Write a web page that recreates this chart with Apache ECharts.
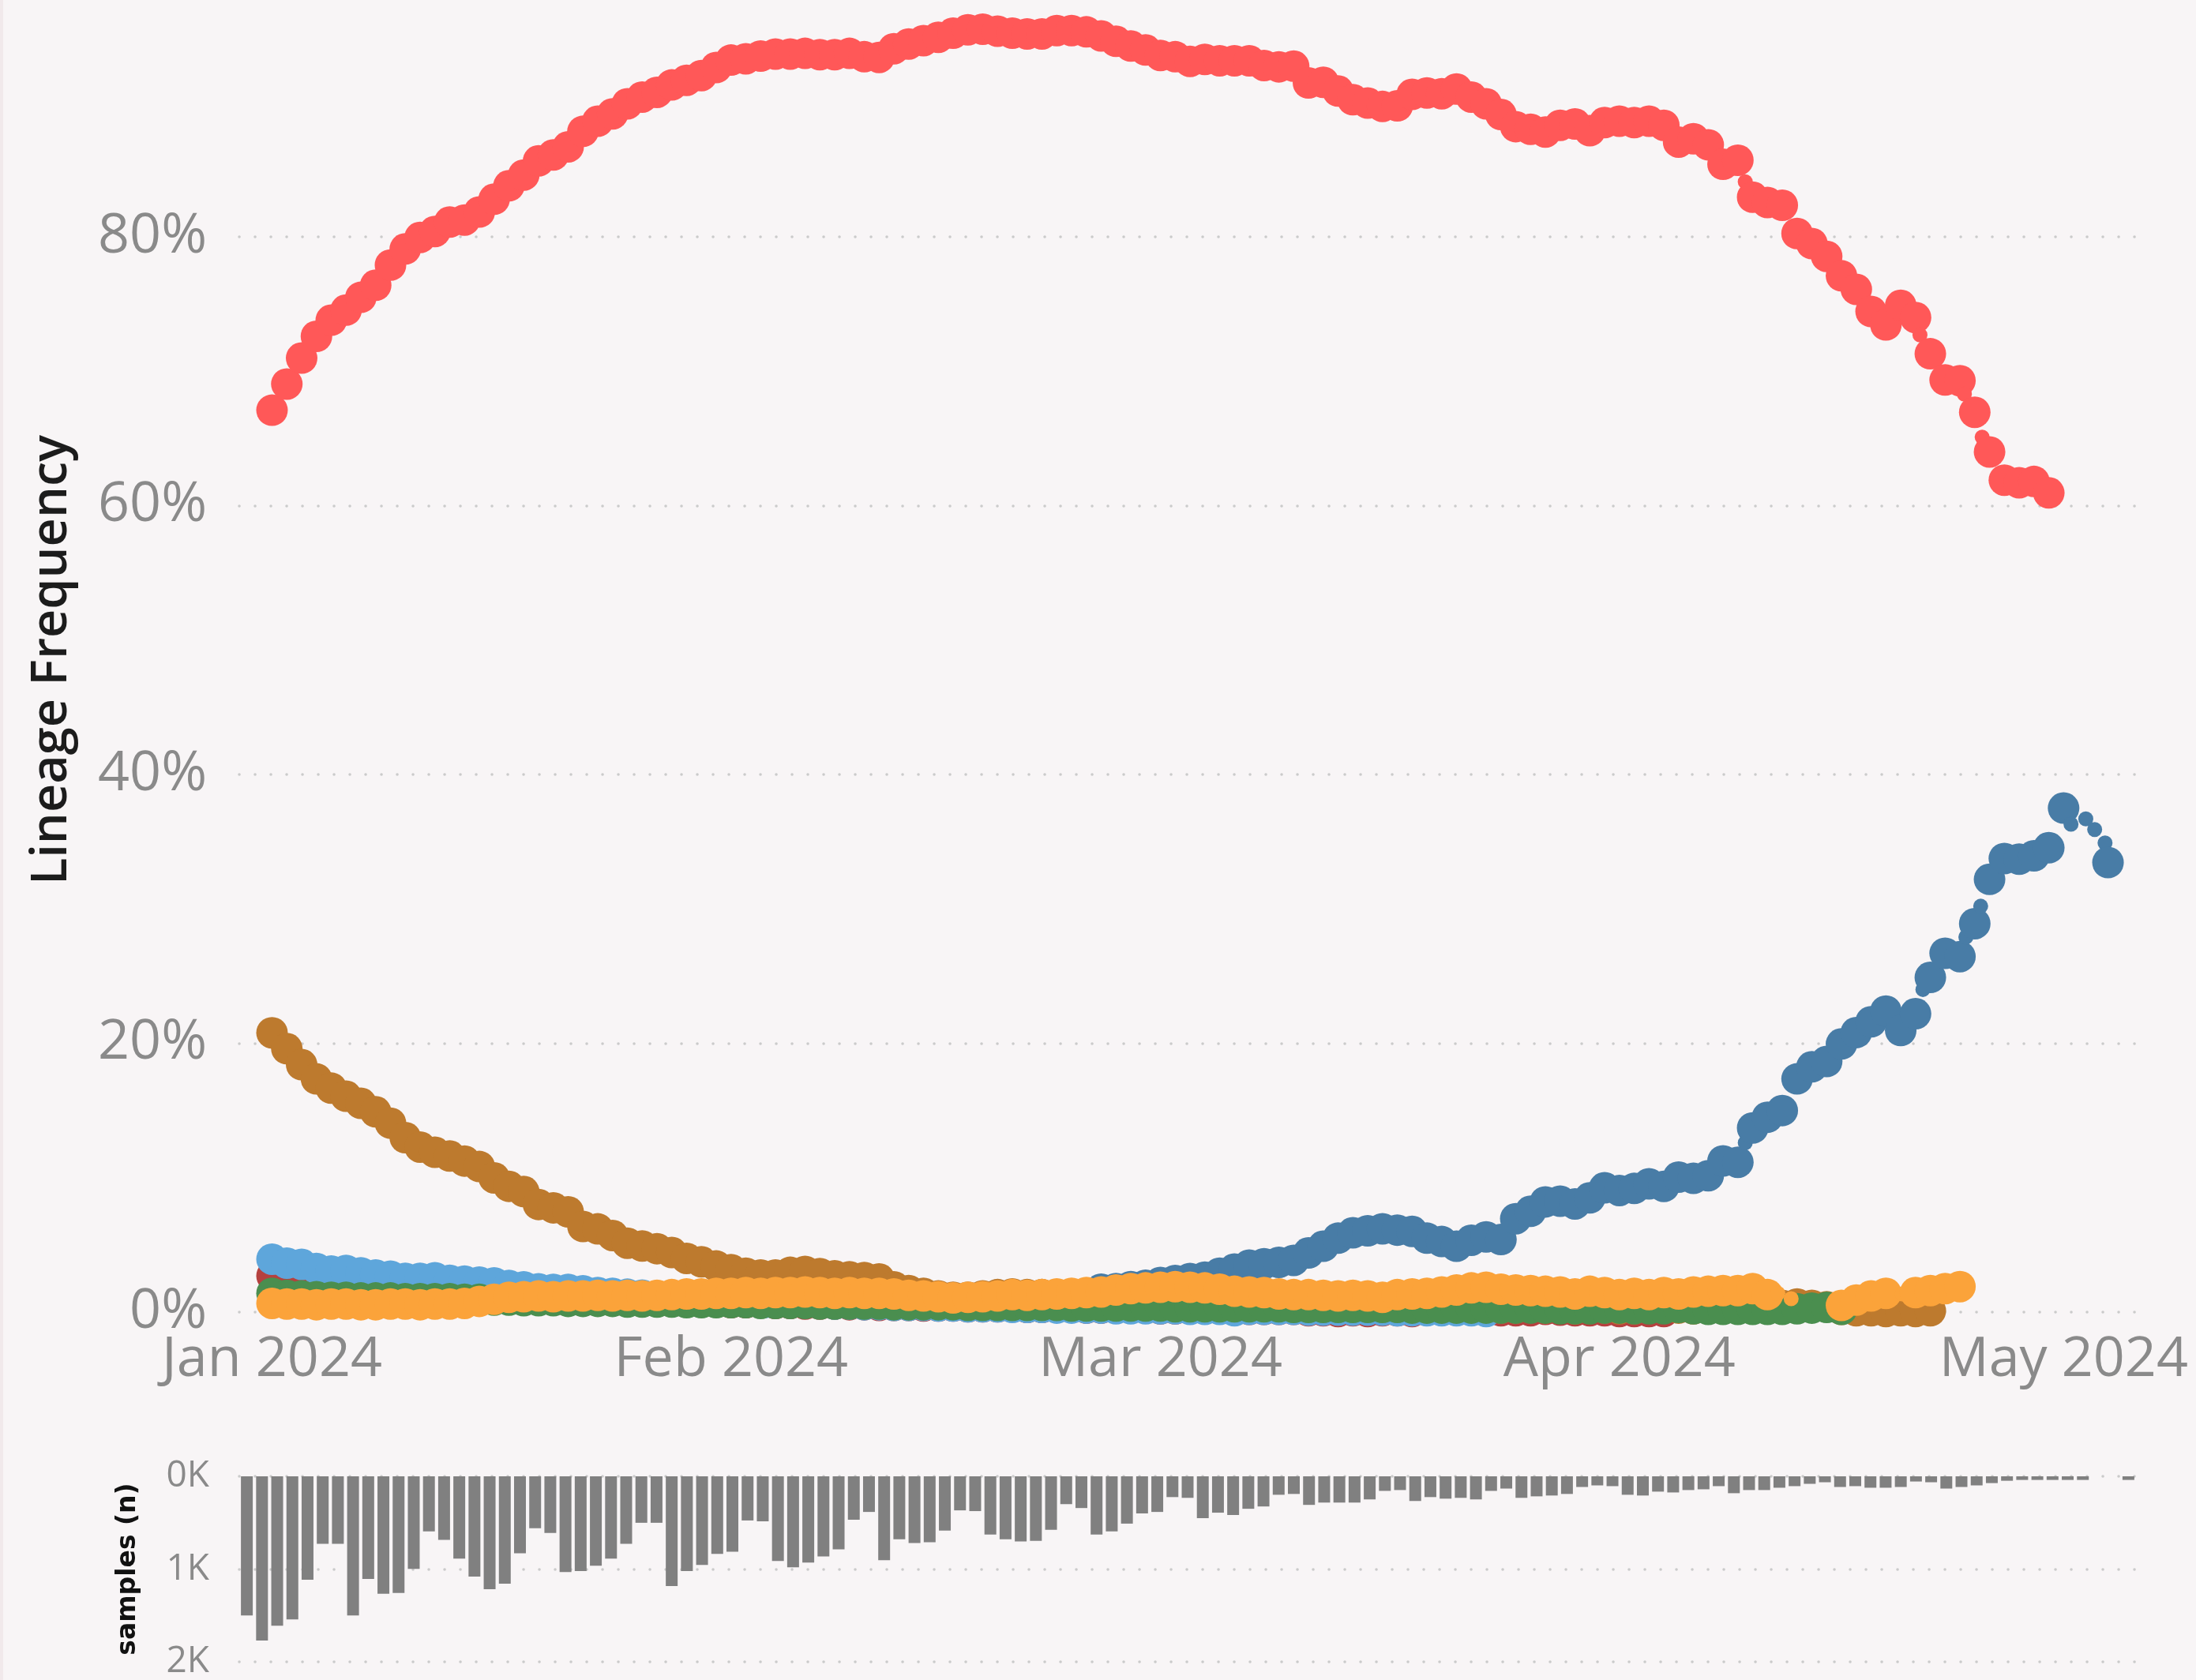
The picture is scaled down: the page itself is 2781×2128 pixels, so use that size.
<!DOCTYPE html>
<html><head><meta charset="utf-8">
<script src="https://cdn.jsdelivr.net/npm/echarts@6/dist/echarts.min.js"></script>
<style>
html,body{margin:0;padding:0;background:#f8f5f6;}
#c{width:2781px;height:2128px;position:absolute;left:0;top:0;}
#edge{position:absolute;left:0;top:0;width:4px;height:2128px;background:#f1e9eb;z-index:5;}
</style></head><body><div id="c"></div><div id="edge"></div>
<script>
// ---------- data ----------
const START_DATE = '2024-01-01';
const monthTickDays = [0, 31, 60, 91, 121];
const monthLabels = ['Jan 2024', 'Feb 2024', 'Mar 2024', 'Apr 2024', 'May 2024'];
const freqTicks = [0, 20, 40, 60, 80];
const sampleTicks = [0, 1000, 2000];

// lineage frequency (%) by day since Jan 1 2024
const redFreq = [67.1,69.05,70.98,72.6,73.8,74.55,75.5,76.4,77.9,79.1,79.95,80.4,81.1,81.25,81.85,82.8,83.8,84.6,85.65,86.1,
86.7,87.85,88.6,89.15,89.9,90.4,90.75,91.3,91.65,92.0,92.6,93.15,93.25,93.45,93.6,93.6,93.65,93.55,93.55,93.65,
93.4,93.35,94.0,94.35,94.6,94.85,95.15,95.4,95.45,95.3,95.15,95.1,95.1,95.35,95.35,95.25,94.95,94.55,94.2,93.9,
93.5,93.4,93.05,93.2,93.1,93.1,93.1,92.75,92.65,92.7,91.45,91.5,90.85,90.2,89.95,89.7,89.75,90.6,90.7,90.65,
91.0,90.4,89.9,89.1,88.2,88.0,87.8,88.3,88.4,87.9,88.5,88.6,88.5,88.6,88.3,87.05,87.3,86.85,85.4,85.7,
82.95,82.55,82.35,80.25,79.5,78.55,77.1,76.1,74.45,73.45,74.9,74.0,71.3,69.35,69.3,66.95,64.0,61.9,61.7,61.8,60.95];
const redLowCount = [[99.5,84.1],[111.3,72.7],[114.3,68.3],[115.5,65.1]];

const steelStart = 56;
const steelFreq = [1.7,1.75,1.9,2.0,2.2,2.35,2.5,2.6,2.9,3.2,3.5,3.6,3.7,3.85,4.4,4.9,5.5,5.9,6.05,6.2,
6.1,6.0,5.5,5.25,4.9,5.35,5.6,5.4,6.95,7.5,8.2,8.25,8.05,8.5,9.25,9.05,9.2,9.55,9.35,10.05,
9.95,10.15,11.25,11.15,13.7,14.5,15.0,17.35,18.25,18.65,19.95,20.8,21.6,22.4,20.95,22.2,24.9,26.7,26.45,28.9,
32.2,33.75,33.7,33.95,34.55,37.5,null,null,33.45];
const steelLowCount = [[99.5,12.6],[111.5,24.0],[114.4,27.9],[115.4,30.2],[121.5,36.3],[122.5,36.7],[123.1,35.9],[123.8,34.9]];

const brownFreq = [20.78,19.6,18.41,17.35,16.66,16.06,15.53,14.9,14.06,12.98,12.28,11.89,11.61,11.24,10.83,9.99,9.36,8.97,8.01,7.76,
7.46,6.37,6.19,5.7,5.13,4.92,4.72,4.43,4.0,3.74,3.43,3.16,2.9,2.76,2.76,2.96,3.02,2.86,2.7,2.63,
2.57,2.47,1.88,1.6,1.4,1.2,1.1,1.1,1.2,1.3,1.35,1.3,1.3,1.2,1.1,1.0,0.95,0.9,0.85,0.8,
0.8,0.75,0.7,0.7,0.65,0.6,0.6,0.55,0.55,0.5,0.5,0.5,0.45,0.45,0.4,0.4,0.4,0.35,0.4,0.45,
0.4,0.35,0.35,0.3,0.3,0.35,0.3,0.3,0.25,0.3,0.3,0.25,0.25,0.3,0.3,0.3,0.25,0.3,0.3,0.3,
0.35,0.4,0.5,0.6,0.5,0.4,0.2,0.1,0.1,0.05,0.1,0.05,0.1];

const lightBlueFreq = [3.94,3.64,3.55,3.25,3.06,3.1,2.92,2.76,2.67,2.51,2.51,2.55,2.37,2.31,2.23,2.18,1.98,1.88,1.73,1.69,
1.69,1.59,1.45,1.39,1.33,1.26,1.2,1.1,1.0,0.95,0.9,0.85,0.8,null,0.75,0.7,0.7,0.65,0.6,0.6,
0.55,0.55,0.5,0.5,0.5,0.45,0.45,0.4,0.4,0.4,0.35,0.35,0.35,0.3,0.3,0.3,0.3,0.25,0.25,0.25,
0.25,0.25,0.2,0.2,0.2,0.1,0.2,0.2,0.2,0.2,0.15,0.15,0.15,0.15,0.15,0.15,0.1,0.1,0.1,0.1,
0.1,0.1,0.05];
const lightBlueLowCount = [[33.4,0.1]];

const greenFreq = [1.4,1.25,1.2,1.15,1.1,1.1,1.05,1.05,1.05,1.0,1.0,1.0,1.0,0.95,0.95,0.9,0.9,0.85,0.85,0.85,
0.8,0.8,0.8,0.8,0.75,0.75,0.75,0.75,0.7,0.7,0.7,0.7,0.7,0.65,0.65,0.65,0.65,0.6,0.6,0.6,
0.6,0.6,0.55,0.55,0.55,0.55,0.55,0.5,0.5,0.5,0.5,0.5,0.5,0.5,0.45,0.45,0.45,0.45,0.45,0.45,
0.45,0.4,0.4,0.4,0.4,0.4,0.4,0.4,0.4,0.35,0.35,0.35,0.35,0.35,0.35,0.35,0.35,0.3,0.3,0.3,
0.3,0.3,0.3,0.3,0.3,0.3,0.3,0.25,0.25,0.25,0.3,0.3,0.25,0.25,0.25,0.35,0.25,0.2,0.2,0.2,
0.2,0.2,0.2,0.25,0.3,0.35,0.2];

const darkRedFreq = [2.7,2.5,2.3,2.15,2.0,1.9,1.8,1.7,1.6,1.55,1.5,1.45,1.4,1.35,1.3,1.25,1.2,1.15,1.1,1.05,
1.0,0.95,0.95,0.9,0.9,0.85,0.85,0.8,0.8,0.75,0.75,0.7,0.7,0.7,0.65,0.65,0.6,0.6,0.6,0.55,
0.55,0.5,0.5,0.5,0.45,0.45,0.45,0.4,0.4,0.4,0.4,0.35,0.35,0.35,0.35,0.3,0.3,0.3,0.3,0.3,
0.25,0.25,0.25,0.25,0.25,0.2,0.2,0.2,0.2,0.2,0.1,0.1,0.05,0.1,0.05,0.1,0.1,0.05,0.15,0.15,
0.2,0.15,0.15,0.1,0.1,0.1,0.2,0.15,0.1,0.1,0.1,0.05,0.05,0.05,0.05];

const orangeFreq = [0.65,0.6,0.6,0.55,0.6,0.6,0.55,0.55,0.6,0.6,0.55,0.6,0.6,0.65,0.8,0.95,1.1,1.15,1.2,1.15,
1.2,1.2,1.25,1.2,1.25,1.2,1.25,1.3,1.35,1.35,1.4,1.4,1.45,1.4,1.45,1.45,1.5,1.45,1.4,1.45,
1.4,1.4,1.35,1.25,1.2,1.15,1.05,1.1,1.15,1.2,1.3,1.25,1.3,1.35,1.4,1.45,1.5,1.65,1.75,1.8,
1.85,1.9,1.85,1.8,1.7,1.55,1.5,1.45,1.35,1.3,1.3,1.25,1.2,1.25,1.2,1.1,1.3,1.35,1.4,1.5,
1.65,1.8,1.85,1.7,1.65,1.6,1.55,1.5,1.35,1.55,1.45,1.3,1.4,1.3,1.45,1.35,1.5,1.55,1.6,1.6,
1.75,1.3,null,null,null,null,0.5,0.9,1.2,1.4,null,1.45,1.6,1.75,1.9];
const orangeLowCount = [[101.7,1.4],[102.6,1.0],[110.1,1.35]];

// samples per day (n), Jan 1 .. May 4 2024
const samples = [1500,1770,1610,1543,1115,728,728,1500,1106,1266,1258,997,594,686,888,1081,1216,1157,829,560,
611,1031,1022,964,888,728,501,501,1182,1022,955,837,812,476,485,913,980,930,863,787,
468,384,905,678,720,711,585,367,375,627,678,703,695,577,300,342,627,594,510,400,
384,224,232,451,392,417,350,325,199,190,308,283,283,283,249,157,148,266,224,241,
232,249,157,132,232,216,207,190,115,98,106,199,207,165,174,148,140,106,182,148,
148,123,106,81,64,115,106,123,123,115,56,64,132,115,98,73,48,39,39,39,
39,39,null,null,39];

// ---------- build ----------
const FONT = '"Open Sans", "Noto Sans", sans-serif';
const DAY_MS = 86400000;
const t0 = Date.parse(START_DATE + 'T00:00:00Z');
const dayCats = samples.map((_, i) => new Date(t0 + i * DAY_MS).toISOString().slice(0, 10));

function pts(arr, offset, low) {
  const out = [];
  arr.forEach((v, i) => { if (v !== null && v !== undefined) out.push({ value: [offset + i, v] }); });
  (low || []).forEach(p => out.push({ value: [p[0], p[1]], symbolSize: 19 }));
  out.sort((a, b) => a.value[0] - b.value[0]);
  return out;
}
function scatter(name, color, data) {
  return { name, type: 'scatter', xAxisIndex: 0, yAxisIndex: 0, symbol: 'circle', symbolSize: 40,
    itemStyle: { color, opacity: 1 }, data, clip: true, silent: true, emphasis: { disabled: true } };
}
const dotted = { color: '#cbcbcb', width: 3.5, type: [0.1, 19.9], cap: 'round' };

// plot: 0% at y=1662, 17.025 px per percent -> top edge of canvas is 1662/17.025 %
const TOP_PCT = 1662 / 17.025;

const chart = echarts.init(document.getElementById('c'), null, { renderer: 'canvas' });
chart.setOption({
  animation: false,
  backgroundColor: '#f8f5f6',
  grid: [
    { left: 303, right: 76, top: 0, height: 1662 },
    { left: 303, right: 76, top: 1870, height: 238 }
  ],
  xAxis: [
    { type: 'value', gridIndex: 0, min: -2.213, max: 125.89,
      axisLine: { show: false }, axisTick: { show: false }, splitLine: { show: false },
      axisLabel: { customValues: monthTickDays, formatter: v => monthLabels[monthTickDays.indexOf(v)],
        fontFamily: FONT, fontSize: 70, color: '#8a8a8a', margin: 26 } },
    { type: 'category', gridIndex: 1, data: dayCats, show: false, boundaryGap: true }
  ],
  yAxis: [
    { type: 'value', gridIndex: 0, min: 0, max: TOP_PCT, interval: 20,
      axisLine: { show: false }, axisTick: { show: false },
      splitLine: { show: true, showMaxLine: false, lineStyle: dotted },
      axisLabel: { formatter: v => freqTicks.indexOf(v) >= 0 ? v + '%' : '', showMaxLabel: false,
        fontFamily: FONT, fontSize: 70, color: '#8a8a8a', margin: 41 },
      name: 'Lineage Frequency', nameLocation: 'middle', nameRotate: 90, nameGap: 205,
      nameTextStyle: { fontFamily: FONT, fontSize: 63, fontWeight: 600, color: '#1c1c1c', padding: [0, 10, 0, 0] } },
    { type: 'value', gridIndex: 1, min: 0, max: 2000, interval: 1000, inverse: true,
      axisLine: { show: false }, axisTick: { show: false },
      splitLine: { show: true, lineStyle: dotted },
      axisLabel: { formatter: v => sampleTicks.indexOf(v) >= 0 ? (v / 1000) + 'K' : '',
        fontFamily: FONT, fontSize: 46, color: '#8a8a8a', margin: 38 },
      name: 'samples (n)', nameLocation: 'middle', nameRotate: 90, nameGap: 124,
      nameTextStyle: { fontFamily: '"DejaVu Sans", sans-serif', fontSize: 33, fontWeight: 'bold', color: '#111111' } }
  ],
  series: [
    scatter('dark red', '#b5413f', pts(darkRedFreq, 0)),
    scatter('light blue', '#5ea6db', pts(lightBlueFreq, 0, lightBlueLowCount)),
    scatter('brown', '#bd7a2e', pts(brownFreq, 0)),
    scatter('green', '#4a8e4f', pts(greenFreq, 0)),
    scatter('steel blue', '#487ca6', pts(steelFreq, steelStart, steelLowCount)),
    scatter('orange', '#fba33a', pts(orangeFreq, 0, orangeLowCount)),
    scatter('red', '#ff5858', pts(redFreq, 0, redLowCount)),
    { name: 'samples', type: 'bar', xAxisIndex: 1, yAxisIndex: 1, data: samples, barWidth: 15,
      itemStyle: { color: '#808080' }, silent: true }
  ]
});
</script></body></html>
